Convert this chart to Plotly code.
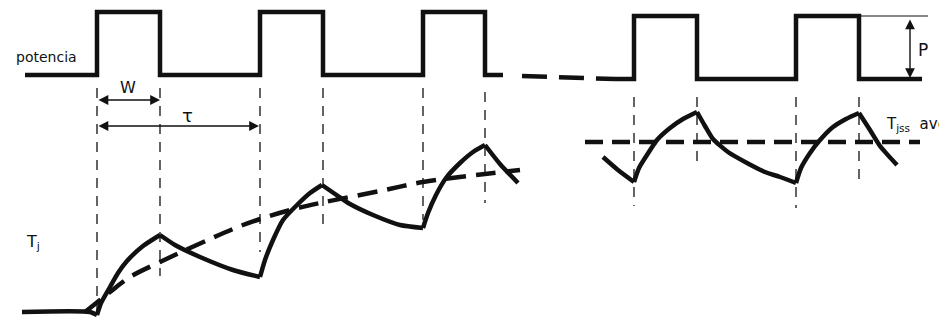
import plotly.graph_objects as go

# Power pulse edges (diagram units, y grows downward)
rise_left = [97, 260, 423]
fall_left = [160, 323, 485]
rise_right = [634, 796]
fall_right = [697, 859]
p_low_left, p_high_left = 75, 12
p_low_right, p_high_right = 79, 16
gap_x = [503, 634]          # dashed break in the power trace
gap_y = [76, 79]

# Junction temperature, left part (start-up), split at peaks / valleys
tj_left = [
    ([22, 90, 97], [312, 312, 315]),
    ([97, 101, 110, 118, 127, 143, 160], [315, 303, 287, 273, 261, 246, 235]),
    ([160, 175, 200, 233, 260], [235, 245, 257, 270, 277]),
    ([260, 265, 273, 283, 297, 310, 322], [277, 260, 240, 220, 205, 193, 185]),
    ([322, 335, 350, 373, 400, 423], [185, 194, 204, 215, 225, 228]),
    ([423, 428, 436, 446, 460, 473, 485], [228, 213, 195, 178, 163, 152, 145]),
    ([485, 500, 518], [145, 164, 183]),
]
# average temperature during start-up
avg_x = [85, 110, 130, 160, 210, 243, 260, 290, 320, 380, 423, 485, 520]
avg_y = [312, 292, 277, 262, 239, 225, 219, 210, 203, 191, 182, 174, 170]

# Junction temperature, right part (steady state)
tj_right = [
    ([603, 618, 634], [157, 170, 182]),
    ([634, 639, 647, 657, 670, 683, 697], [182, 168, 155, 140, 128, 119, 112]),
    ([697, 705, 713, 728, 747, 765, 780, 796], [112, 126, 139, 152, 163, 172, 177, 183]),
    ([796, 801, 810, 820, 833, 846, 859], [183, 168, 153, 140, 127, 119, 113]),
    ([859, 870, 880, 897], [113, 130, 146, 165]),
]
tjss_avg_x = [585, 920]
tjss_avg_y = 142

# Vertical guide lines: x, top, bottom
guides = [(97, 88, 322), (160, 88, 276), (260, 88, 252), (323, 88, 226),
          (423, 88, 220), (485, 92, 203), (634, 97, 206), (697, 97, 164),
          (796, 97, 208), (859, 97, 184)]

BLACK = "#111111"


def steps(start, rises, falls, end, lo, hi):
    xs, ys = [start], [lo]
    for r, f in zip(rises, falls):
        xs += [r, r, f, f]
        ys += [lo, hi, hi, lo]
    xs.append(end)
    ys.append(lo)
    return xs, ys


fig = go.Figure()

# vertical dashed guides
for gx, top, bot in guides:
    fig.add_trace(go.Scatter(x=[gx, gx], y=[top, bot], mode="lines",
                             line=dict(color=BLACK, width=1.3, dash="10px,8px")))

# power waveform
xs, ys = steps(25, rise_left, fall_left, gap_x[0], p_low_left, p_high_left)
fig.add_trace(go.Scatter(x=xs, y=ys, mode="lines", line=dict(color=BLACK, width=4.5)))
xs, ys = steps(615, rise_right, fall_right, 922, p_low_right, p_high_right)
fig.add_trace(go.Scatter(x=xs, y=ys, mode="lines", line=dict(color=BLACK, width=4.5)))
fig.add_trace(go.Scatter(x=[gap_x[0] + 19, 615], y=[gap_y[0], gap_y[1]], mode="lines",
                         line=dict(color=BLACK, width=4.5, dash="25px,12px")))

# temperature curves
for sx, sy in tj_left + tj_right:
    fig.add_trace(go.Scatter(x=sx, y=sy, mode="lines",
                             line=dict(color=BLACK, width=4.5, shape="spline", smoothing=0.6)))
fig.add_trace(go.Scatter(x=avg_x, y=avg_y, mode="lines",
                         line=dict(color=BLACK, width=4.5, shape="spline", dash="20px,10px")))
fig.add_trace(go.Scatter(x=tjss_avg_x, y=[tjss_avg_y] * 2, mode="lines",
                         line=dict(color=BLACK, width=4.5, dash="18px,9px")))

# P extension line
fig.add_trace(go.Scatter(x=[fall_right[-1], 928], y=[p_high_right] * 2, mode="lines",
                         line=dict(color=BLACK, width=1.2)))

# dimension arrows
def dim_arrow(x0, y0, x1, y1):
    fig.add_annotation(x=x1, y=y1, ax=x0, ay=y0, xref="x", yref="y", axref="x", ayref="y",
                       showarrow=True, arrowhead=2, arrowside="end+start", arrowsize=1.4,
                       arrowwidth=1.4, arrowcolor=BLACK, text="")


dim_arrow(rise_left[0], 100, fall_left[0], 100)
dim_arrow(rise_left[0], 126, rise_left[1] - 1, 126)
dim_arrow(910, p_high_right + 2, 910, p_low_right - 1)

font = dict(family="DejaVu Sans", color=BLACK)
labels = [
    ("potencia", 46, 57, 14, "center"),
    ("W", 128, 87, 16, "center"),
    ("\u03c4", 187, 115, 18, "center"),
    ("P", 923, 50, 17, "center"),
    ("T<sub>j</sub>", 24, 242, 16, "left"),
    ("T<sub>jss</sub>  avg", 884, 124, 15, "left"),
]
for txt, x, y, size, anchor in labels:
    fig.add_annotation(x=x, y=y, xref="x", yref="y", text=txt, showarrow=False,
                       xanchor=anchor, yanchor="middle", font=dict(size=size, **font))

fig.update_layout(
    width=939, height=322,
    margin=dict(l=0, r=0, t=0, b=0),
    paper_bgcolor="white", plot_bgcolor="white",
    showlegend=False,
    xaxis=dict(range=[0, 939], visible=False, fixedrange=True),
    yaxis=dict(range=[322, 0], visible=False, fixedrange=True),
)

# drop the browser's default body margin so the diagram sits at the page corner
fig.write_html("out.html", config={"displayModeBar": False},
               post_script="document.body.style.margin='0';")
